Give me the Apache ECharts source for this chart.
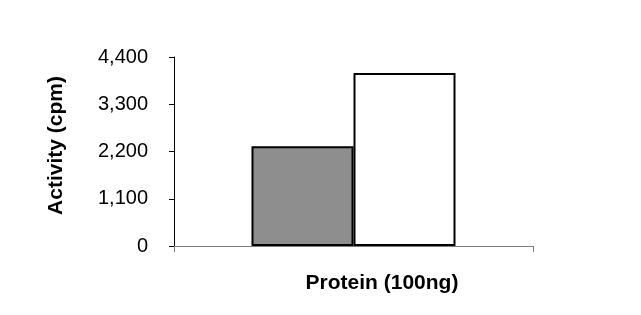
<!DOCTYPE html>
<html>
<head>
<meta charset="utf-8">
<script src="https://cdn.jsdelivr.net/npm/echarts@6/dist/echarts.min.js"></script>
<style>html,body{margin:0;padding:0;background:#fff;}#c{width:641px;height:315px;}</style>
</head>
<body>
<div id="c"></div>
<script>
const categories = [''];
const seriesA = [2320];
const seriesB = [4030];
const yTicks = [0, 1100, 2200, 3300, 4400];
const xTitle = 'Protein (100ng)';
const yTitle = 'Activity (cpm)';

const chart = echarts.init(document.getElementById('c'), null, {renderer: 'canvas'});
const font = 'Liberation Sans, Arial, sans-serif';
chart.setOption({
  animation: false,
  backgroundColor: '#fff',
  grid: {left: 174, right: 108, top: 57, bottom: 69, containLabel: false},
  xAxis: {
    type: 'category',
    data: categories,
    name: xTitle,
    nameLocation: 'middle',
    nameGap: 27,
    nameTextStyle: {fontFamily: font, fontSize: 21, fontWeight: 'bold', color: '#000', padding: [0, 0, 0, 57]},
    axisLine: {lineStyle: {color: '#808080', width: 1}},
    axisTick: {show: true, length: 6, lineStyle: {color: '#808080'}},
    axisLabel: {show: false}
  },
  yAxis: {
    type: 'value',
    min: yTicks[0],
    max: yTicks[yTicks.length - 1],
    interval: yTicks[1] - yTicks[0],
    name: yTitle,
    nameLocation: 'middle',
    nameRotate: 90,
    nameGap: 107,
    nameTextStyle: {fontFamily: font, fontSize: 21, fontWeight: 'bold', color: '#000', padding: [0, 0, 0, 12]},
    axisLine: {show: true, lineStyle: {color: '#000', width: 1}},
    axisTick: {show: true, length: 5, lineStyle: {color: '#000'}},
    splitLine: {show: false},
    axisLabel: {
      fontFamily: font, fontSize: 20, color: '#000', margin: 26,
      formatter: v => v.toLocaleString('en-US')
    }
  },
  series: [
    {type: 'bar', data: seriesA, barWidth: 102, barGap: '0%',
     itemStyle: {color: '#8e8e8e', borderColor: '#000', borderWidth: 2}},
    {type: 'bar', data: seriesB, barWidth: 102, barGap: '0%',
     itemStyle: {color: '#fff', borderColor: '#000', borderWidth: 2}}
  ]
});
</script>
</body>
</html>
